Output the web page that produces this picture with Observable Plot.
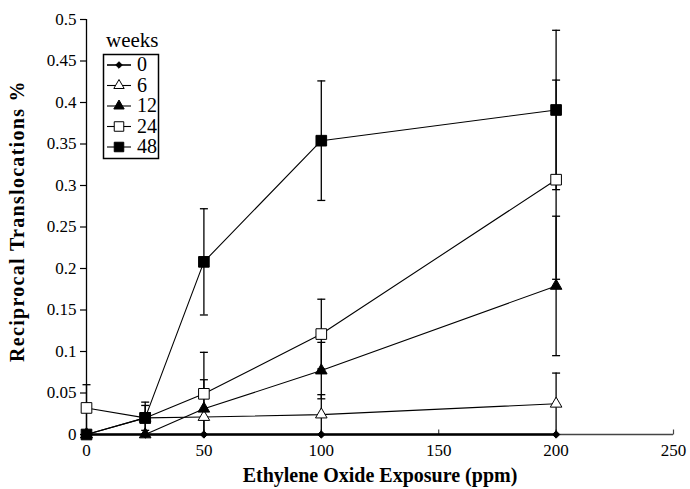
<!DOCTYPE html>
<html><head><meta charset="utf-8">
<script src="https://cdn.jsdelivr.net/npm/d3@7"></script>
<script src="https://cdn.jsdelivr.net/npm/@observablehq/plot@0.6"></script>
<style>
body{margin:0;background:#fff}
#wrap{position:relative;width:690px;height:489px;font-family:'Liberation Serif','DejaVu Serif',serif}
#legend{position:absolute;left:0;top:0}
</style>
</head><body><div id="wrap"></div>
<script>
// ---- data ----
const doses = [0, 25, 50, 100, 200];
const weeks = ["0", "6", "12", "24", "48"];
const w0  = [0, 0, 0, 0, 0];
const w6  = [0, 0.020, 0.021, 0.024, 0.037];
const w12 = [0, 0, 0.031, 0.077, 0.179];
const w24 = [0.032, 0.020, 0.049, 0.121, 0.307];
const w48 = [0, 0.020, 0.208, 0.354, 0.391];
const e0  = [0, 0, 0, 0, 0];
const e6  = [0, 0, 0, 0.024, 0.037];
const e12 = [0, 0, 0.035, 0.034, 0.084];
const e24 = [0.028, 0.015, 0.050, 0.042, 0.120];
const e48 = [0, 0.019, 0.064, 0.072, 0.096];
const xTicks = [0, 50, 100, 150, 200, 250];
const yTicks = [0, 0.05, 0.1, 0.15, 0.2, 0.25, 0.3, 0.35, 0.4, 0.45, 0.5];
const xTitle = "Ethylene Oxide Exposure (ppm)";
const yTitle = "Reciprocal Translocations %";
const legendTitle = "weeks";

// ---- styles ----
const FONT = "'Liberation Serif','DejaVu Serif',serif";
const seriesStyle = {
  "0":  {symbol: "diamond2", fill: "black", r: 3.3},
  "6":  {symbol: "triangle", fill: "white", r: 4.3},
  "12": {symbol: "triangle", fill: "black", r: 4.3},
  "24": {symbol: "square",   fill: "white", r: 6.0},
  "48": {symbol: "square",   fill: "black", r: 6.0}
};
const values = [w0, w6, w12, w24, w48];
const errors = [e0, e6, e12, e24, e48];

const rows = [];
weeks.forEach((w, i) => doses.forEach((d, j) => rows.push({week: w, dose: d, value: values[i][j], err: errors[i][j]})));
const errRows = rows.filter(r => r.err > 0);
const caps = [];
errRows.forEach(r => { caps.push({dose: r.dose, y: r.value + r.err}); if (r.value - r.err > 0.001) caps.push({dose: r.dose, y: r.value - r.err}); });

const capSymbol = {draw(ctx) { ctx.moveTo(-4, 0); ctx.lineTo(4, 0); }};
const tickSymbol = {draw(ctx) { ctx.moveTo(0, 0); ctx.lineTo(0, -5); }};

const W = 690, H = 489, mL = 86, mR = 17, mT = 19, mB = 55;

const marks = [
  Plot.axisY(yTicks, {tickSize: 6, tickPadding: 4, fontSize: 17, fontFamily: FONT, tickFormat: d => String(d), label: null, strokeWidth: 1.2}),
  Plot.axisX(xTicks, {tickSize: 0, tickPadding: 9, fontSize: 17, fontFamily: FONT, label: null}),
  Plot.ruleY([0], {stroke: "#444", strokeWidth: 1.3}),
  Plot.ruleX([0], {stroke: "black", strokeWidth: 1.3}),
  Plot.dot(xTicks, {x: d => d, y: 0, symbol: tickSymbol, stroke: "#444", strokeWidth: 1.2, fill: "none"}),
  Plot.line(rows.filter(r => r.week !== "0"), {x: "dose", y: "value", z: "week", stroke: "black", strokeWidth: 1.1}),
  Plot.line(rows.filter(r => r.week === "0"), {x: "dose", y: "value", stroke: "black", strokeWidth: 2.6}),
  Plot.ruleX(errRows, {x: "dose", y1: r => Math.max(0, r.value - r.err), y2: r => r.value + r.err, stroke: "black", strokeWidth: 1.3}),
  Plot.dot(caps, {x: "dose", y: "y", symbol: capSymbol, stroke: "black", strokeWidth: 1.3, fill: "none"}),
  ...weeks.map(w => Plot.dot(rows.filter(r => r.week === w), {x: "dose", y: "value", symbol: seriesStyle[w].symbol, r: seriesStyle[w].r, fill: seriesStyle[w].fill, stroke: "black", strokeWidth: 1})),
  Plot.text([yTitle], {frameAnchor: "left", text: d => d, rotate: -90, textAnchor: "middle", lineAnchor: "middle", dx: -69, dy: -6, fontWeight: "bold", fontSize: 20, fontFamily: FONT}),
  Plot.text([xTitle], {frameAnchor: "bottom", text: d => d, textAnchor: "middle", lineAnchor: "middle", dy: 41, fontWeight: "bold", fontSize: 20, fontFamily: FONT})
];

const chart = Plot.plot({
  width: W, height: H,
  marginLeft: mL, marginRight: mR, marginTop: mT, marginBottom: mB,
  x: {domain: [0, 250]},
  y: {domain: [0, 0.5]},
  style: {fontFamily: FONT, color: "black", background: "white", overflow: "visible"},
  marks
});
d3.select(chart).selectAll("text").filter(function() { return this.textContent === yTitle; }).attr("letter-spacing", "1.3px");
const wrap = document.getElementById("wrap");
wrap.appendChild(chart);

// ---- legend (overlay) ----
const sym = {diamond2: d3.symbolDiamond2, triangle: d3.symbolTriangle, square: d3.symbolSquare};
const lg = d3.select(wrap).append("svg").attr("id", "legend").attr("width", W).attr("height", H)
  .attr("font-family", FONT);
lg.append("text").attr("x", 106).attr("y", 47).attr("font-size", 21).text(legendTitle);
lg.append("rect").attr("x", 103.5).attr("y", 54.5).attr("width", 55).attr("height", 104)
  .attr("fill", "white").attr("stroke", "black").attr("stroke-width", 1.5);
weeks.forEach((w, i) => {
  const cy = 65 + i * 20.5;
  const g = lg.append("g");
  g.append("line").attr("x1", 107).attr("x2", 131).attr("y1", cy).attr("y2", cy).attr("stroke", "black").attr("stroke-width", w === "0" ? 1.6 : 1.1);
  const s = seriesStyle[w];
  g.append("path").attr("transform", `translate(119,${cy})`)
    .attr("d", d3.symbol(sym[s.symbol], Math.PI * s.r * s.r * 0.8)())
    .attr("fill", s.fill).attr("stroke", "black").attr("stroke-width", 1);
  g.append("text").attr("x", 137).attr("y", cy + 6).attr("font-size", 20).text(w);
});
</script>
</body></html>
